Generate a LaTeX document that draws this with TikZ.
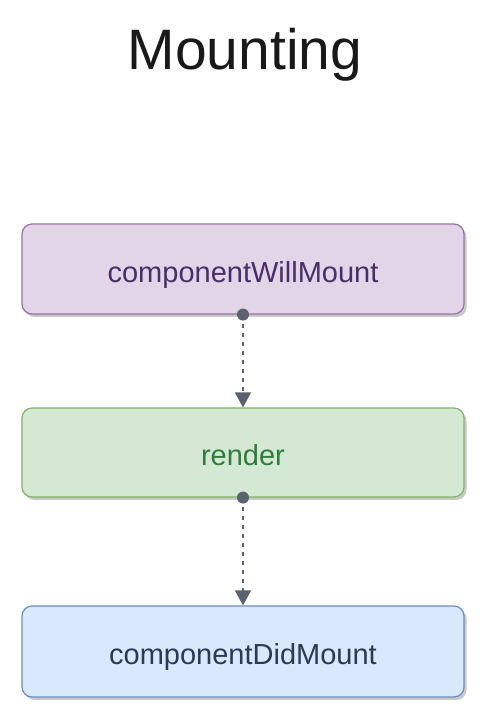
\documentclass[tikz,border=0pt]{standalone}
\usepackage{fontspec}
\setmainfont{Liberation Sans}
\usetikzlibrary{shadows,arrows.meta}
\definecolor{pfill}{HTML}{E1D5E7}
\definecolor{pdraw}{HTML}{9673A6}
\definecolor{ptext}{HTML}{4A2D6B}
\definecolor{gfill}{HTML}{D5E8D4}
\definecolor{gdraw}{HTML}{82B366}
\definecolor{gtext}{HTML}{2E7D3C}
\definecolor{bfill}{HTML}{DAE8FC}
\definecolor{bdraw}{HTML}{6C8EBF}
\definecolor{btext}{HTML}{2B3A55}
\definecolor{conn}{HTML}{5A626D}
\tikzset{
  stage/.style={rectangle, rounded corners=10pt, minimum width=442pt, line width=1.2pt,
    font=\fontsize{29}{34}\selectfont, text height=27pt, text depth=0pt,
    drop shadow={shadow xshift=2.5pt, shadow yshift=-3pt, opacity=0.35, fill=black!60}},
  flow/.style={conn, line width=1.8pt, dash pattern=on 4.5pt off 4.5pt, -{Triangle[length=15pt,width=16pt]}},
  knob/.style={circle, fill=conn, inner sep=0pt, minimum size=12pt}
}
\begin{document}
\begin{tikzpicture}[x=1pt,y=1pt]
\useasboundingbox[fill=white] (0,0) rectangle (500,728);
\node[font=\fontsize{57}{64}\selectfont, text=black!90] (title) at (245,673) {Mounting};
\node[stage, fill=pfill, draw=pdraw, text=ptext, minimum height=90pt] (will) at (243,459) {componentWillMount};
\node[stage, fill=gfill, draw=gdraw, text=gtext, minimum height=89pt] (render) at (243,275.5) {render};
\node[stage, fill=bfill, draw=bdraw, text=btext, minimum height=91pt] (did) at (243,76.5) {componentDidMount};
\node[knob] (k1) at (will.south) {};
\node[knob] (k2) at (render.south) {};
\draw[flow] (k1.center) -- (render.north);
\draw[flow] (k2.center) -- (did.north);
\end{tikzpicture}
\end{document}
